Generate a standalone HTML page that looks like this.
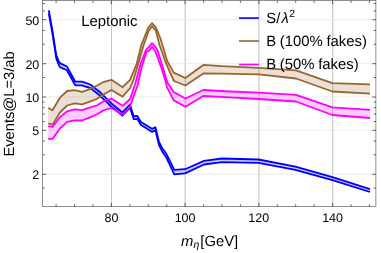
<!DOCTYPE html>
<html><head><meta charset="utf-8"><style>html,body{margin:0;padding:0;background:#fff}body{width:381px;height:253px;overflow:hidden}svg{display:block;filter:blur(0.35px)}text{text-rendering:geometricPrecision;font-family:"Liberation Sans",sans-serif;fill:#000}</style></head><body>
<svg width="381" height="253" viewBox="0 0 381 253">
<rect width="381" height="253" fill="#fff"/>
<line x1="111.5" x2="111.5" y1="0.6" y2="206.5" stroke="#c4c4c4" stroke-width="1.1"/>
<line x1="185.2" x2="185.2" y1="0.6" y2="206.5" stroke="#c4c4c4" stroke-width="1.1"/>
<line x1="258.9" x2="258.9" y1="0.6" y2="206.5" stroke="#c4c4c4" stroke-width="1.1"/>
<line x1="332.7" x2="332.7" y1="0.6" y2="206.5" stroke="#c4c4c4" stroke-width="1.1"/>
<line x1="42.5" x2="375.9" y1="174.3" y2="174.3" stroke="#e4e4e4" stroke-width="0.7"/>
<line x1="42.5" x2="375.9" y1="130.3" y2="130.3" stroke="#e4e4e4" stroke-width="0.7"/>
<line x1="42.5" x2="375.9" y1="97.0" y2="97.0" stroke="#e4e4e4" stroke-width="0.7"/>
<line x1="42.5" x2="375.9" y1="63.7" y2="63.7" stroke="#e4e4e4" stroke-width="0.7"/>
<line x1="42.5" x2="375.9" y1="19.7" y2="19.7" stroke="#e4e4e4" stroke-width="0.7"/>
<clipPath id="c"><rect x="42.5" y="0.6" width="333.4" height="205.9"/></clipPath><g clip-path="url(#c)">
<polygon points="48.8,10.3 52.1,28.3 56.3,55.3 59.0,61.8 60.4,63.4 66.9,66.5 75.3,81.7 82.0,81.7 90.4,84.5 99.5,91.7 111.4,103.4 122.4,112.5 130.0,104.7 133.6,116.1 137.3,115.9 140.9,122.0 148.3,126.5 151.9,128.8 155.4,127.3 159.0,141.9 162.6,148.8 166.0,153.2 174.3,169.9 185.0,169.2 204.0,160.9 221.9,158.5 258.5,159.5 295.4,166.6 332.4,177.2 370.0,189.2 370.0,192.0 332.4,180.1 295.4,169.8 258.5,162.9 221.9,162.1 204.0,164.5 185.0,173.4 174.3,174.3 166.0,156.8 162.6,152.2 159.0,145.1 155.4,130.3 151.9,131.8 148.3,129.5 140.9,125.0 137.3,118.9 133.6,119.1 130.0,107.7 122.4,115.5 111.4,106.6 99.5,95.3 90.4,88.1 82.0,85.3 75.3,85.3 66.9,70.3 60.4,67.4 59.0,65.4 56.3,58.7 52.1,31.7 48.8,13.7" fill="#0000ff" fill-opacity="0.2" stroke="none"/>

<polygon points="48.2,108.0 52.5,110.2 59.9,97.7 67.2,91.0 74.6,90.2 82.0,91.9 89.3,89.4 96.7,85.8 104.0,81.8 111.4,79.8 122.6,87.2 130.1,79.8 136.6,64.0 141.3,45.0 148.3,27.7 152.1,23.2 155.8,27.4 160.5,38.7 165.3,54.5 167.2,61.0 173.7,72.6 185.4,78.0 203.3,64.9 221.8,66.2 258.8,67.8 296.0,70.3 332.4,83.2 370.0,84.4 370.0,93.6 332.4,91.5 296.0,78.5 258.8,74.4 221.8,73.6 203.3,73.4 185.4,85.5 174.0,81.0 169.8,71.9 165.0,60.8 162.9,54.5 159.5,45.0 155.8,30.8 152.1,26.3 148.7,30.8 143.7,45.0 138.2,64.0 133.5,80.0 130.2,88.0 122.6,96.6 111.4,90.0 104.0,94.3 96.7,99.0 89.3,101.8 82.0,104.3 74.6,103.4 67.2,105.5 59.9,112.5 52.5,124.7 48.2,123.3" fill="#9c6530" fill-opacity="0.2" stroke="none"/>

<polygon points="48.2,126.1 52.5,126.9 59.9,117.3 67.2,111.3 74.6,109.3 82.0,110.2 89.3,107.6 96.7,105.5 104.0,100.9 111.4,98.5 122.6,105.8 130.1,99.0 135.0,84.5 140.5,64.0 146.1,49.7 148.6,47.4 152.1,43.1 155.7,47.4 157.9,51.3 162.7,67.1 167.4,82.4 173.7,92.0 185.4,98.5 203.3,90.0 230.0,91.5 258.8,92.7 296.0,94.8 332.4,107.4 370.0,109.8 370.0,118.0 332.4,115.0 296.0,101.5 258.8,99.0 230.0,97.4 203.3,96.0 185.4,106.7 173.7,100.4 167.0,87.4 165.8,82.1 161.1,67.1 155.3,51.3 152.1,46.7 149.3,50.5 146.6,51.6 141.7,67.1 137.9,84.5 130.1,106.3 122.6,114.5 111.4,108.0 104.0,110.1 96.7,114.5 89.3,117.6 82.0,120.5 74.6,120.4 67.2,121.8 59.9,128.5 52.5,138.9 48.2,138.9" fill="#ff00ff" fill-opacity="0.2" stroke="none"/>

<polyline points="48.8,13.7 52.1,31.7 56.3,58.7 59.0,65.4 60.4,67.4 66.9,70.3 75.3,85.3 82.0,85.3 90.4,88.1 99.5,95.3 111.4,106.6 122.4,115.5 130.0,107.7 133.6,119.1 137.3,118.9 140.9,125.0 148.3,129.5 151.9,131.8 155.4,130.3 159.0,145.1 162.6,152.2 166.0,156.8 174.3,174.3 185.0,173.4 204.0,164.5 221.9,162.1 258.5,162.9 295.4,169.8 332.4,180.1 370.0,192.0" fill="none" stroke="#0000ff" stroke-width="1.8" stroke-linejoin="round"/>
<polyline points="48.8,10.3 52.1,28.3 56.3,55.3 59.0,61.8 60.4,63.4 66.9,66.5 75.3,81.7 82.0,81.7 90.4,84.5 99.5,91.7 111.4,103.4 122.4,112.5 130.0,104.7 133.6,116.1 137.3,115.9 140.9,122.0 148.3,126.5 151.9,128.8 155.4,127.3 159.0,141.9 162.6,148.8 166.0,153.2 174.3,169.9 185.0,169.2 204.0,160.9 221.9,158.5 258.5,159.5 295.4,166.6 332.4,177.2 370.0,189.2" fill="none" stroke="#0000ff" stroke-width="1.8" stroke-linejoin="round"/>

<polyline points="48.2,123.3 52.5,124.7 59.9,112.5 67.2,105.5 74.6,103.4 82.0,104.3 89.3,101.8 96.7,99.0 104.0,94.3 111.4,90.0 122.6,96.6 130.2,88.0 133.5,80.0 138.2,64.0 143.7,45.0 148.7,30.8 152.1,26.3 155.8,30.8 159.5,45.0 162.9,54.5 165.0,60.8 169.8,71.9 174.0,81.0 185.4,85.5 203.3,73.4 221.8,73.6 258.8,74.4 296.0,78.5 332.4,91.5 370.0,93.6" fill="none" stroke="#9c6530" stroke-width="1.8" stroke-linejoin="round"/>
<polyline points="48.2,108.0 52.5,110.2 59.9,97.7 67.2,91.0 74.6,90.2 82.0,91.9 89.3,89.4 96.7,85.8 104.0,81.8 111.4,79.8 122.6,87.2 130.1,79.8 136.6,64.0 141.3,45.0 148.3,27.7 152.1,23.2 155.8,27.4 160.5,38.7 165.3,54.5 167.2,61.0 173.7,72.6 185.4,78.0 203.3,64.9 221.8,66.2 258.8,67.8 296.0,70.3 332.4,83.2 370.0,84.4" fill="none" stroke="#9c6530" stroke-width="1.8" stroke-linejoin="round"/>

<polyline points="48.2,138.9 52.5,138.9 59.9,128.5 67.2,121.8 74.6,120.4 82.0,120.5 89.3,117.6 96.7,114.5 104.0,110.1 111.4,108.0 122.6,114.5 130.1,106.3 137.9,84.5 141.7,67.1 146.6,51.6 149.3,50.5 152.1,46.7 155.3,51.3 161.1,67.1 165.8,82.1 167.0,87.4 173.7,100.4 185.4,106.7 203.3,96.0 230.0,97.4 258.8,99.0 296.0,101.5 332.4,115.0 370.0,118.0" fill="none" stroke="#ff00ff" stroke-width="1.8" stroke-linejoin="round"/>
<polyline points="48.2,126.1 52.5,126.9 59.9,117.3 67.2,111.3 74.6,109.3 82.0,110.2 89.3,107.6 96.7,105.5 104.0,100.9 111.4,98.5 122.6,105.8 130.1,99.0 135.0,84.5 140.5,64.0 146.1,49.7 148.6,47.4 152.1,43.1 155.7,47.4 157.9,51.3 162.7,67.1 167.4,82.4 173.7,92.0 185.4,98.5 203.3,90.0 230.0,91.5 258.8,92.7 296.0,94.8 332.4,107.4 370.0,109.8" fill="none" stroke="#ff00ff" stroke-width="1.8" stroke-linejoin="round"/>

</g>
<rect x="42.5" y="0.6" width="333.4" height="205.9" fill="none" stroke="#555" stroke-width="0.65"/>
<path d="M56.1 206.5v-2.2M56.1 0.6v2.2" stroke="#3a3a3a" stroke-width="0.8" fill="none"/>
<path d="M74.5 206.5v-2.2M74.5 0.6v2.2" stroke="#3a3a3a" stroke-width="0.8" fill="none"/>
<path d="M93.0 206.5v-2.2M93.0 0.6v2.2" stroke="#3a3a3a" stroke-width="0.8" fill="none"/>
<path d="M111.4 206.5v-3.6M111.4 0.6v3.6" stroke="#3a3a3a" stroke-width="0.8" fill="none"/>
<path d="M129.8 206.5v-2.2M129.8 0.6v2.2" stroke="#3a3a3a" stroke-width="0.8" fill="none"/>
<path d="M148.3 206.5v-2.2M148.3 0.6v2.2" stroke="#3a3a3a" stroke-width="0.8" fill="none"/>
<path d="M166.7 206.5v-2.2M166.7 0.6v2.2" stroke="#3a3a3a" stroke-width="0.8" fill="none"/>
<path d="M185.1 206.5v-3.6M185.1 0.6v3.6" stroke="#3a3a3a" stroke-width="0.8" fill="none"/>
<path d="M203.6 206.5v-2.2M203.6 0.6v2.2" stroke="#3a3a3a" stroke-width="0.8" fill="none"/>
<path d="M222.0 206.5v-2.2M222.0 0.6v2.2" stroke="#3a3a3a" stroke-width="0.8" fill="none"/>
<path d="M240.4 206.5v-2.2M240.4 0.6v2.2" stroke="#3a3a3a" stroke-width="0.8" fill="none"/>
<path d="M258.8 206.5v-3.6M258.8 0.6v3.6" stroke="#3a3a3a" stroke-width="0.8" fill="none"/>
<path d="M277.3 206.5v-2.2M277.3 0.6v2.2" stroke="#3a3a3a" stroke-width="0.8" fill="none"/>
<path d="M295.7 206.5v-2.2M295.7 0.6v2.2" stroke="#3a3a3a" stroke-width="0.8" fill="none"/>
<path d="M314.1 206.5v-2.2M314.1 0.6v2.2" stroke="#3a3a3a" stroke-width="0.8" fill="none"/>
<path d="M332.6 206.5v-3.6M332.6 0.6v3.6" stroke="#3a3a3a" stroke-width="0.8" fill="none"/>
<path d="M351.0 206.5v-2.2M351.0 0.6v2.2" stroke="#3a3a3a" stroke-width="0.8" fill="none"/>
<path d="M369.4 206.5v-2.2M369.4 0.6v2.2" stroke="#3a3a3a" stroke-width="0.8" fill="none"/>
<path d="M42.5 188.1h2.2M375.9 188.1h-2.2" stroke="#3a3a3a" stroke-width="0.8" fill="none"/>
<path d="M42.5 174.3h3.6M375.9 174.3h-3.6" stroke="#3a3a3a" stroke-width="0.8" fill="none"/>
<path d="M42.5 154.8h2.2M375.9 154.8h-2.2" stroke="#3a3a3a" stroke-width="0.8" fill="none"/>
<path d="M42.5 141.0h2.2M375.9 141.0h-2.2" stroke="#3a3a3a" stroke-width="0.8" fill="none"/>
<path d="M42.5 130.3h3.6M375.9 130.3h-3.6" stroke="#3a3a3a" stroke-width="0.8" fill="none"/>
<path d="M42.5 121.5h2.2M375.9 121.5h-2.2" stroke="#3a3a3a" stroke-width="0.8" fill="none"/>
<path d="M42.5 114.1h2.2M375.9 114.1h-2.2" stroke="#3a3a3a" stroke-width="0.8" fill="none"/>
<path d="M42.5 107.7h2.2M375.9 107.7h-2.2" stroke="#3a3a3a" stroke-width="0.8" fill="none"/>
<path d="M42.5 102.1h2.2M375.9 102.1h-2.2" stroke="#3a3a3a" stroke-width="0.8" fill="none"/>
<path d="M42.5 97.0h3.6M375.9 97.0h-3.6" stroke="#3a3a3a" stroke-width="0.8" fill="none"/>
<path d="M42.5 77.5h2.2M375.9 77.5h-2.2" stroke="#3a3a3a" stroke-width="0.8" fill="none"/>
<path d="M42.5 63.7h3.6M375.9 63.7h-3.6" stroke="#3a3a3a" stroke-width="0.8" fill="none"/>
<path d="M42.5 44.2h2.2M375.9 44.2h-2.2" stroke="#3a3a3a" stroke-width="0.8" fill="none"/>
<path d="M42.5 30.4h2.2M375.9 30.4h-2.2" stroke="#3a3a3a" stroke-width="0.8" fill="none"/>
<path d="M42.5 19.7h3.6M375.9 19.7h-3.6" stroke="#3a3a3a" stroke-width="0.8" fill="none"/>
<path d="M42.5 10.9h2.2M375.9 10.9h-2.2" stroke="#3a3a3a" stroke-width="0.8" fill="none"/>
<path d="M42.5 3.5h2.2M375.9 3.5h-2.2" stroke="#3a3a3a" stroke-width="0.8" fill="none"/>
<text x="111.4" y="222.0" font-size="12.5" text-anchor="middle">80</text>
<text x="185.1" y="222.0" font-size="12.5" text-anchor="middle">100</text>
<text x="258.8" y="222.0" font-size="12.5" text-anchor="middle">120</text>
<text x="332.6" y="222.0" font-size="12.5" text-anchor="middle">140</text>
<text x="39.3" y="179.2" font-size="12.5" text-anchor="end">2</text>
<text x="39.3" y="135.2" font-size="12.5" text-anchor="end">5</text>
<text x="39.3" y="101.9" font-size="12.5" text-anchor="end">10</text>
<text x="39.3" y="68.6" font-size="12.5" text-anchor="end">20</text>
<text x="39.3" y="24.6" font-size="12.5" text-anchor="end">50</text>
<text transform="translate(13.9,104) rotate(-90)" font-size="14.7" text-anchor="middle">Events@L=3/ab</text>
<text x="181.1" y="245.6" font-size="14.8"><tspan font-style="italic">m</tspan><tspan font-style="italic" font-size="10.4" dy="2.2">η</tspan><tspan dy="-2.2" dx="1.1">[GeV]</tspan></text>
<text x="81.2" y="25.6" font-size="14.9">Leptonic</text>
<line x1="239" x2="258.9" y1="18.1" y2="18.1" stroke="#0000ff" stroke-width="1.6"/>
<line x1="239" x2="258.9" y1="41" y2="41" stroke="#9c6530" stroke-width="1.6"/>
<line x1="239" x2="258.9" y1="64.5" y2="64.5" stroke="#ff00ff" stroke-width="1.6"/>
<text x="266.3" y="22.6" font-size="14.8">S/<tspan font-style="italic" dx="1.2">λ</tspan><tspan font-size="10.4" dy="-6" dx="0.5">2</tspan></text>
<text x="266.3" y="45.8" font-size="14.9" word-spacing="-0.55">B (100% fakes)</text>
<text x="266.3" y="69" font-size="14.9" word-spacing="-0.55">B (50% fakes)</text>
</svg></body></html>
